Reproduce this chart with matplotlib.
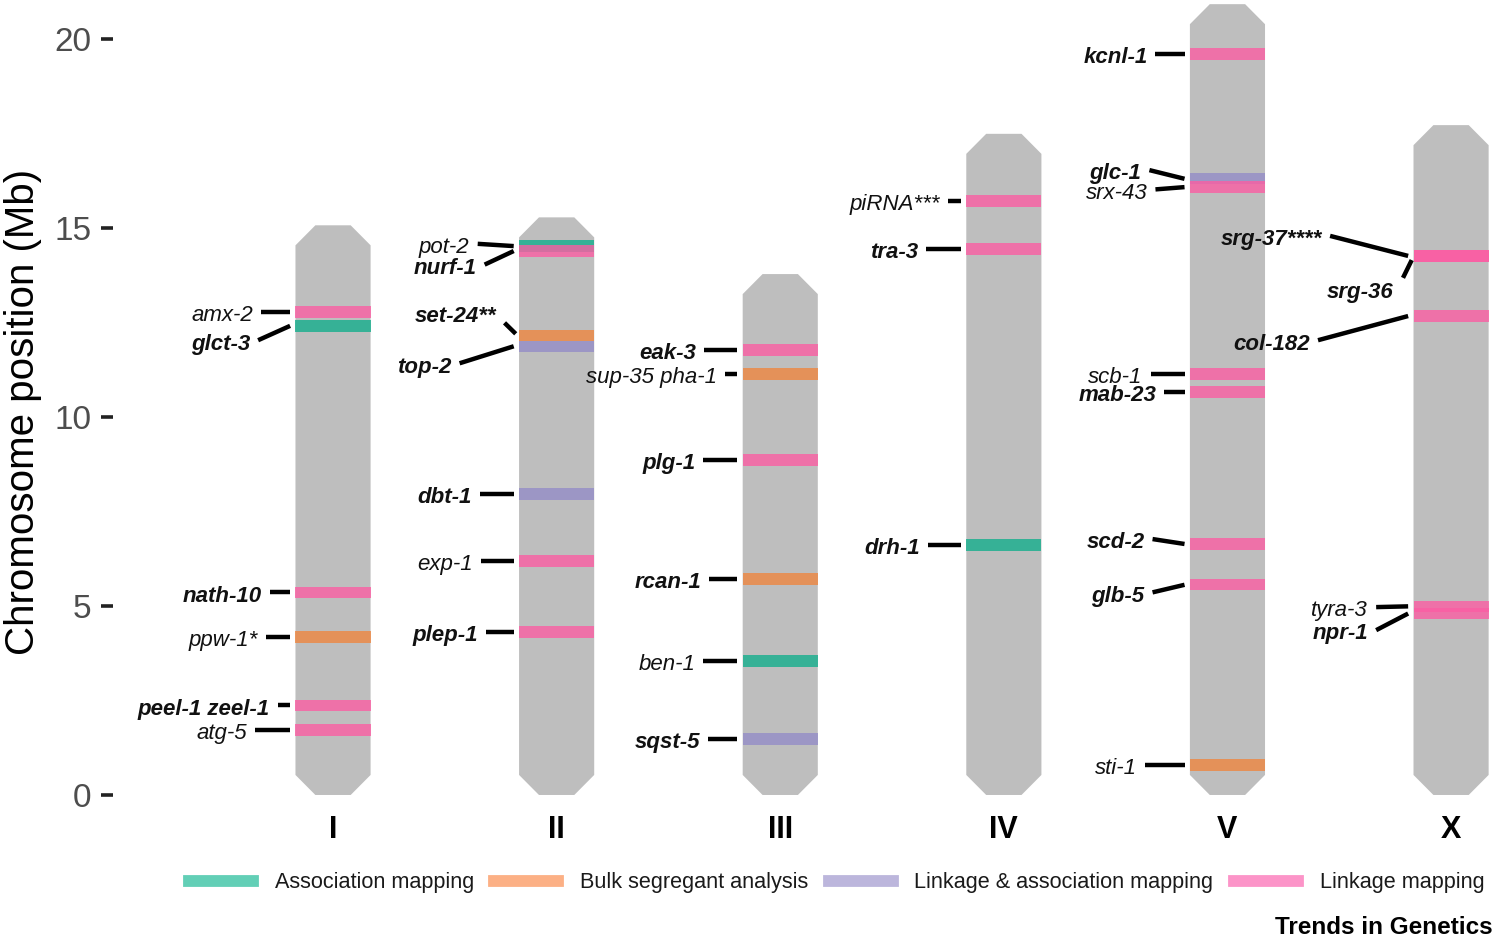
import matplotlib.pyplot as plt
from matplotlib.lines import Line2D

plt.rcParams['font.family'] = ['Liberation Sans', 'DejaVu Sans']

# chromosomes and their lengths (Mb)
chromosomes = ['I', 'II', 'III', 'IV', 'V', 'X']
chrom_length = [15.07, 15.28, 13.78, 17.49, 20.92, 17.72]

# mapped genes: name, chromosome, position (Mb), method
genes = ['amx-2', 'glct-3', 'nath-10', 'ppw-1*', 'peel-1 zeel-1', 'atg-5',
         'pot-2', 'nurf-1', 'set-24**', 'top-2', 'dbt-1', 'exp-1', 'plep-1',
         'eak-3', 'sup-35 pha-1', 'plg-1', 'rcan-1', 'ben-1', 'sqst-5',
         'piRNA***', 'tra-3', 'drh-1',
         'kcnl-1', 'glc-1', 'srx-43', 'scb-1', 'mab-23', 'scd-2', 'glb-5', 'sti-1',
         'srg-37****', 'srg-36', 'col-182', 'tyra-3', 'npr-1']
gene_chrom = ['I'] * 6 + ['II'] * 7 + ['III'] * 6 + ['IV'] * 3 + ['V'] * 8 + ['X'] * 5
gene_pos = [12.78, 12.41, 5.36, 4.18, 2.37, 1.72,
            14.52, 14.39, 12.15, 11.87, 7.96, 6.19, 4.31,
            11.77, 11.14, 8.86, 5.71, 3.54, 1.48,
            15.71, 14.44, 6.61,
            19.60, 16.30, 16.08, 11.14, 10.66, 6.64, 5.56, 0.79,
            14.26, 14.26, 12.67, 4.99, 4.80]
gene_method = ['Linkage mapping', 'Association mapping', 'Linkage mapping',
               'Bulk segregant analysis', 'Linkage mapping', 'Linkage mapping',
               'Association mapping', 'Linkage mapping', 'Bulk segregant analysis',
               'Linkage & association mapping', 'Linkage & association mapping',
               'Linkage mapping', 'Linkage mapping',
               'Linkage mapping', 'Bulk segregant analysis', 'Linkage mapping',
               'Bulk segregant analysis', 'Association mapping',
               'Linkage & association mapping',
               'Linkage mapping', 'Linkage mapping', 'Association mapping',
               'Linkage mapping', 'Linkage & association mapping', 'Linkage mapping',
               'Linkage mapping', 'Linkage mapping', 'Linkage mapping',
               'Linkage mapping', 'Bulk segregant analysis',
               'Linkage mapping', 'Linkage mapping', 'Linkage mapping',
               'Linkage mapping', 'Linkage mapping']

methods = ['Association mapping', 'Bulk segregant analysis',
           'Linkage & association mapping', 'Linkage mapping']
band_colors = ['#14ae8c', '#ee8640', '#948dc8', '#fb5ea3']
key_colors = ['#62cfb6', '#fcb085', '#bcb6dc', '#fc94c8']

bold_genes = {'glct-3', 'nath-10', 'peel-1 zeel-1', 'nurf-1', 'set-24**', 'top-2',
              'dbt-1', 'plep-1', 'eak-3', 'plg-1', 'rcan-1', 'sqst-5', 'tra-3',
              'drh-1', 'kcnl-1', 'glc-1', 'mab-23', 'scd-2', 'glb-5',
              'srg-37****', 'srg-36', 'col-182', 'npr-1'}

# label placement: x of text right edge relative to chromosome centre, label y (None = at band)
label_place = {
    'amx-2': (-0.358, None), 'glct-3': (-0.371, 12.03), 'nath-10': (-0.318, None),
    'ppw-1*': (-0.335, None), 'peel-1 zeel-1': (-0.282, None), 'atg-5': (-0.385, None),
    'pot-2': (-0.389, 14.58), 'nurf-1': (-0.358, 14.03), 'set-24**': (-0.268, 12.75),
    'top-2': (-0.470, 11.42), 'dbt-1': (-0.380, None), 'exp-1': (-0.376, None),
    'plep-1': (-0.353, None),
    'eak-3': (-0.376, None), 'sup-35 pha-1': (-0.282, None), 'plg-1': (-0.380, None),
    'rcan-1': (-0.353, None), 'ben-1': (-0.380, None), 'sqst-5': (-0.358, None),
    'piRNA***': (-0.286, None), 'tra-3': (-0.385, None), 'drh-1': (-0.376, None),
    'kcnl-1': (-0.358, None), 'glc-1': (-0.385, 16.53), 'srx-43': (-0.358, 16.02),
    'scb-1': (-0.380, None), 'mab-23': (-0.318, None), 'scd-2': (-0.371, 6.77),
    'glb-5': (-0.371, 5.36), 'sti-1': (-0.407, None),
    'srg-37****': (-0.577, 14.79), 'srg-36': (-0.259, 13.39), 'col-182': (-0.631, 12.03),
    'tyra-3': (-0.371, 4.97), 'npr-1': (-0.371, 4.36),
}
# a few leader lines that do not start/end at the default spot
line_start = {'set-24**': (-0.233, 12.49), 'srg-36': (-0.215, 13.68)}
line_end = {'set-24**': (-0.183, 12.20), 'srg-36': (-0.176, 14.15)}

half_w = 0.168
cut_x = 0.089
cut_y = 0.53
band_h = 0.30

fig = plt.figure(figsize=(14.94, 9.38), dpi=100)
ax = fig.add_axes([113 / 1494, 133 / 938, 1381 / 1494, 805 / 938])

xpos = {c: i + 1 for i, c in enumerate(chromosomes)}

# chromosome bodies
for c, L in zip(chromosomes, chrom_length):
    x = xpos[c]
    xs = [x - half_w, x - half_w + cut_x, x + half_w - cut_x, x + half_w,
          x + half_w, x + half_w - cut_x, x - half_w + cut_x, x - half_w]
    ys = [cut_y, 0, 0, cut_y, L - cut_y, L, L, L - cut_y]
    ax.fill(xs, ys, color='#bebebe', lw=0, zorder=1)

# bands, labels and leader lines
for g, c, p, m in zip(genes, gene_chrom, gene_pos, gene_method):
    x = xpos[c]
    col = band_colors[methods.index(m)]
    ax.barh(p, 2 * half_w, left=x - half_w, height=band_h, color=col, alpha=0.8,
            lw=0, zorder=2)
    dx, ly = label_place[g]
    if ly is None:
        ly = p
    weight = 'bold' if g in bold_genes else 'normal'
    ax.text(x + dx, ly - 0.1, g, ha='right', va='center', fontsize=16,
            style='italic', weight=weight, color='#111111', zorder=3)
    x0, y0 = line_start.get(g, (dx + 0.036, ly))
    x1, y1 = line_end.get(g, (-0.192, p))
    ax.plot([x + x0, x + x1], [y0, y1], color='black', lw=3.2,
            solid_capstyle='butt', zorder=3)

ax.set_xlim(0.016, 6.192)
ax.set_ylim(-0.265, 21.03)
for s in ax.spines.values():
    s.set_visible(False)

ax.set_yticks([0, 5, 10, 15, 20])
ax.tick_params(axis='y', length=8.6, width=2.6, color='#222222', labelsize=24,
               labelcolor='#4d4d4d', pad=7)
ax.set_xticks(range(1, len(chromosomes) + 1))
ax.set_xticklabels(chromosomes, fontsize=22, fontweight='bold')
ax.tick_params(axis='x', length=0, pad=7)

ax.set_ylabel('Chromosome position (Mb)', fontsize=29, color='black')
ax.yaxis.set_label_coords(-0.0515, 0.488)

handles = [Line2D([0], [0], color=k, lw=8.5) for k in key_colors]
fig.legend(handles, methods, loc='center', bbox_to_anchor=(0.56, 0.059), ncol=4,
           frameon=False, fontsize=15.6, handlelength=2.95, handletextpad=1.0,
           columnspacing=0.95, labelcolor='#1a1a1a')

fig.text(0.999, 0.004, 'Trends in Genetics', ha='right', va='baseline', fontsize=17.5,
         weight='bold', color='black')

fig.savefig('out.png', dpi=100)
